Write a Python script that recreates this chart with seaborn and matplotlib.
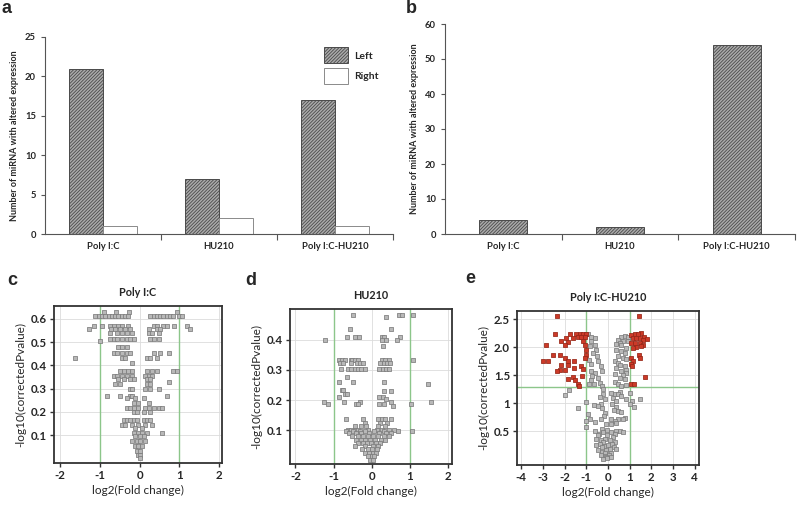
import numpy as np
import pandas as pd
import matplotlib
matplotlib.use('Agg')
import matplotlib.pyplot as plt
import seaborn as sns

# bar panels (a, b)
treatments = ['Poly I:C', 'HU210', 'Poly I:C-HU210']
left_counts = [21, 7, 17]
right_counts = [1, 2, 1]
total_counts = [4, 2, 54]

# volcano panels: -log10(corrected p) level -> log2 fold changes read at that level
c_rows = {
    0.630: [-0.90, -0.59, -0.26, 0.94],
    0.610: [-1.11, -1.03, -0.95, -0.86, -0.78, -0.69, -0.61, -0.53, -0.44, -0.36, -0.28,
            0.27, 0.35, 0.44, 0.52, 0.60, 0.69, 0.77, 0.85, 0.98, 1.06],
    0.570: [-1.14, -0.95, -0.74, -0.65, -0.53, -0.44, -0.28, 0.35, 0.44, 0.60, 0.69, 0.87, 1.19],
    0.555: [-1.26, -0.71, -0.61, -0.49, -0.36, -0.23, 0.23, 0.44, 0.52, 1.26],
    0.540: [-0.74, -0.57, -0.44, -0.32, -0.19, 0.23, 0.31, 0.48],
    0.515: [-0.74, -0.65, -0.57, -0.44, -0.32, -0.23, -0.15, 0.27, 0.35, 0.48],
    0.505: [-0.99],
    0.480: [-0.53, -0.44, -0.32],
    0.455: [-0.65, -0.57, -0.44, -0.32, -0.23, 0.35, 0.52, 0.75],
    0.430: [-1.62, -0.44, -0.36, 0.18, 0.27, 0.44],
    0.410: [-0.19],
    0.375: [-0.49, -0.40, -0.28, -0.19, 0.18, 0.31, 0.44, 0.85, 0.94],
    0.355: [-0.65, -0.57, -0.44, -0.32, -0.19, 0.14, 0.23, 0.31],
    0.340: [-0.53, -0.40, -0.23, -0.15, 0.18, 0.27],
    0.330: [0.73],
    0.320: [-0.61, -0.49, 0.18, 0.27],
    0.300: [-0.23, -0.19, 0.14, 0.27, 0.48],
    0.270: [-0.82, -0.49, -0.23, -0.19, 0.69],
    0.260: [-0.32, -0.11, 0.10],
    0.240: [-0.15, -0.03, 0.23],
    0.215: [-0.32, -0.23, -0.15, -0.03, 0.14, 0.23, 0.35, 0.48, 0.56],
    0.200: [-0.15, -0.07, 0.10, 0.27],
    0.165: [-0.40, -0.32, -0.23, -0.15, -0.07, 0.10, 0.18, 0.27],
    0.145: [-0.44, -0.36, -0.19, -0.03, 0.14, 0.31],
    0.130: [-0.11, 0.06],
    0.110: [-0.15, -0.05, 0.06, 0.18, 0.56],
    0.095: [-0.11, 0.00, 0.10],
    0.075: [-0.19, -0.07, 0.02, 0.14],
    0.055: [-0.11, -0.03, 0.06],
    0.030: [-0.07, 0.02],
    0.015: [-0.03, 0.02],
    0.002: [0.00],
}

d_rows = {
    0.480: [-0.48, 0.72, 0.80, 1.07],
    0.474: [0.38],
    0.435: [-0.57, 0.51],
    0.409: [-0.64, -0.45, -0.33, 0.26, 0.33, 0.74],
    0.400: [-1.22, 0.28, 0.37, 0.66],
    0.378: [0.29],
    0.331: [-0.87, -0.79, -0.70, -0.55, -0.51, -0.44, -0.35, 0.26, 0.35, 0.44, 1.07],
    0.323: [-0.83, -0.74, -0.54, -0.39, -0.31, -0.24, 0.22, 0.31, 0.39, 0.48],
    0.303: [-0.80, -0.63, -0.54, -0.45, -0.37, -0.28, -0.19, 0.20, 0.29, 0.38, 0.46],
    0.277: [-0.64],
    0.259: [-0.85, -0.48, 0.31],
    0.253: [1.47],
    0.235: [-0.79, -0.74],
    0.229: [0.32, 0.51],
    0.220: [-0.70, -0.66],
    0.209: [-0.85, 0.19, 0.29],
    0.205: [0.38],
    0.194: [-1.24, -0.72, -0.31, 0.51, 1.54],
    0.187: [-1.14, -0.41, -0.37, 0.20, 0.33, 1.03],
    0.180: [0.55],
    0.139: [-0.67, -0.24, 0.17, 0.26, 0.35, 0.51],
    0.124: [-0.19, 0.22, 0.39],
    0.113: [-0.45, -0.28, -0.15, 0.17, 0.35],
    0.102: [-0.61, -0.54, -0.44, -0.35, -0.10, 0.13, 0.26, 0.44, 0.57],
    0.097: [-0.67, -0.50, -0.32, -0.19, 0.07, 0.31, 0.68, 1.05],
    0.091: [-0.59, -0.41, -0.28, -0.06, 0.20, 0.38, 0.51],
    0.080: [-0.52, -0.37, -0.24, -0.10, 0.04, 0.17, 0.31, 0.44],
    0.069: [-0.41, -0.28, -0.17, -0.04, 0.09, 0.24, 0.35],
    0.058: [-0.35, -0.24, -0.13, -0.02, 0.10, 0.22],
    0.050: [-0.45, -0.17, 0.04, 0.17],
    0.038: [-0.26, -0.10, 0.00, 0.13],
    0.025: [-0.17, -0.07, 0.04, 0.11],
    0.014: [-0.09, 0.00, 0.07],
    0.003: [-0.04, 0.03],
}

e_rows = {
    2.56: [-2.34, 1.42],
    2.25: [1.51],
    2.24: [-2.46, -1.77, -1.46, -1.31, -1.15, -1.03, -0.92, 1.23, 1.38],
    2.22: [1.08],
    2.21: [0.77],
    2.19: [-0.77, 0.62, 0.92, 1.66],
    2.18: [-1.38, -1.23, -1.08],
    2.16: [-1.92, -1.62, -0.62, 1.15, 1.31, 1.46],
    2.15: [1.82],
    2.14: [0.46, 1.62],
    2.12: [-2.15, 0.69],
    2.11: [-1.15, -0.80, 0.92],
    2.09: [-1.85],
    2.08: [0.54, 1.08, 1.26, 1.46],
    2.06: [0.38],
    2.05: [-2.85, -2.00, -1.08, -0.62, 1.62],
    2.04: [0.62],
    2.02: [-0.85, 1.51],
    2.00: [1.31],
    1.99: [0.85, 1.15],
    1.96: [-1.03, -0.54, 0.38],
    1.93: [0.62],
    1.90: [-0.69, 0.77],
    1.87: [-2.23, -1.02, 1.42],
    1.86: [-2.54],
    1.84: [-0.49, 0.46],
    1.81: [-2.00, -1.08, 0.69, 1.08, 1.46],
    1.79: [0.85],
    1.78: [-0.89],
    1.76: [-2.77, -1.85, -1.57],
    1.75: [-3.00, -0.46, 0.31, 1.15],
    1.72: [0.46],
    1.71: [-0.77, 1.08],
    1.69: [0.54],
    1.68: [-2.15, -1.85],
    1.66: [-1.23, -0.34, 0.77, 1.11],
    1.64: [-1.57, 0.38],
    1.61: [-1.15],
    1.60: [0.85],
    1.59: [-2.20, -2.00],
    1.58: [-2.35, -0.77, -0.28, 0.62],
    1.55: [-0.62, 0.85],
    1.52: [0.31],
    1.50: [0.69],
    1.49: [-1.18, -0.72],
    1.47: [-1.62, 1.69],
    1.46: [-0.46, 0.54],
    1.43: [-1.85, 0.77],
    1.41: [-1.54, -0.80],
    1.39: [0.31],
    1.37: [-0.38],
    1.35: [-0.65, 1.08],
    1.34: [-1.38, -0.89, 0.46, 1.18],
    1.32: [0.82],
    1.31: [-1.34, -0.28, 0.62],
    1.25: [-0.23],
    1.24: [-1.82],
    1.20: [0.54],
    1.18: [0.15, 1.00],
    1.16: [-0.23, 0.31, 0.46],
    1.15: [-2.00],
    1.14: [0.62],
    1.12: [-0.38],
    1.09: [0.23],
    1.08: [-0.12, 0.85, 1.46],
    1.05: [0.38, 1.11],
    1.02: [-1.00],
    0.99: [-0.34, 0.18, 1.00],
    0.97: [-0.65],
    0.95: [-0.46],
    0.93: [0.38, 1.20],
    0.92: [-0.28],
    0.91: [-1.38],
    0.88: [0.26],
    0.87: [0.46],
    0.85: [0.62],
    0.82: [-0.12],
    0.81: [-0.92],
    0.78: [-0.18],
    0.74: [0.80],
    0.72: [-0.85, -0.34, 0.15, 0.46, 0.69],
    0.69: [-1.03, 0.31],
    0.66: [-0.62],
    0.65: [0.38],
    0.64: [-0.08, 0.15],
    0.58: [-1.00],
    0.55: [-0.28],
    0.53: [-0.03],
    0.51: [0.54],
    0.50: [-0.62, 0.38],
    0.49: [-0.23, 0.15, 0.69],
    0.45: [-0.40, 0.31],
    0.43: [-0.46, -0.03],
    0.40: [0.23],
    0.37: [-0.54, -0.15],
    0.34: [-0.34, 0.08],
    0.31: [-0.23, 0.31],
    0.28: [-0.38, 0.18],
    0.25: [-0.57, 0.00],
    0.24: [-0.18],
    0.22: [-0.30, 0.26],
    0.19: [0.38],
    0.18: [0.08],
    0.16: [-0.46, -0.08],
    0.14: [-0.28],
    0.11: [-0.15, 0.15],
    0.08: [-0.34, 0.03],
    0.06: [-0.15],
    0.05: [0.15],
    0.04: [-0.10],
    0.02: [-0.03],
    0.00: [-0.23],
}

fc_cutoff = 1.0
p_cutoff = 1.301  # -log10(0.05)


def rows_to_df(rows):
    fc, lp = [], []
    for level, xs in rows.items():
        fc += xs
        lp += [level] * len(xs)
    return pd.DataFrame({'log2fc': fc, 'logp': lp})


sns.set_theme(style='ticks')
plt.rcParams['font.family'] = ['Lato', 'DejaVu Sans']
plt.rcParams['hatch.linewidth'] = 0.6

fig = plt.figure(figsize=(7.99, 5.05), dpi=100)
W, H = 799, 505


def box(l, t, r, b):
    return [l / W, 1 - b / H, (r - l) / W, (b - t) / H]


ax_a = fig.add_axes(box(45, 37, 393, 234))
ax_b = fig.add_axes(box(445, 24, 795, 234))
ax_c = fig.add_axes(box(54, 306, 222, 463))
ax_d = fig.add_axes(box(290, 309, 452, 464))
ax_e = fig.add_axes(box(517, 311, 699, 465))

hatch_face = '#ababab'
hatch_edge = '#4a4a4a'
hatch = '/' * 10

# panel a
bar_df = pd.DataFrame({'treatment': treatments * 2,
                       'side': ['Left'] * 3 + ['Right'] * 3,
                       'count': left_counts + right_counts})
sns.barplot(data=bar_df, x='treatment', y='count', hue='side',
            palette={'Left': hatch_face, 'Right': 'white'}, width=0.58,
            saturation=1, errorbar=None, legend=False, linewidth=0.7, ax=ax_a)
for bar in ax_a.containers[0]:
    bar.set_hatch(hatch)
    bar.set_edgecolor(hatch_edge)
for bar in ax_a.containers[1]:
    bar.set_edgecolor('#8a8a8a')
ax_a.set_ylim(0, 25)
ax_a.set_yticks(range(0, 26, 5))
ax_a.legend(handles=[ax_a.containers[0][0], ax_a.containers[1][0]], labels=['Left', 'Right'],
            loc='upper right', bbox_to_anchor=(0.985, 0.995), frameon=False,
            handlelength=2.3, handleheight=2.0, labelspacing=0.45, handletextpad=0.6,
            prop={'size': 7.5, 'weight': 'bold'})

# panel b
sns.barplot(x=treatments, y=total_counts, color=hatch_face, width=0.41, saturation=1,
            errorbar=None, linewidth=0.7, ax=ax_b)
for bar in ax_b.patches:
    bar.set_hatch(hatch)
    bar.set_edgecolor(hatch_edge)
ax_b.set_ylim(0, 60)
ax_b.set_yticks(range(0, 61, 10))

for ax in (ax_a, ax_b):
    sns.despine(ax=ax)
    ax.set_xlim(-0.5, 2.5)
    ax.set_xlabel('')
    ax.set_ylabel('Number of miRNA with altered expression', fontsize=6.5, fontweight='bold')
    ax.set_xticks([0.5, 1.5, 2.5], minor=True)
    ax.tick_params(axis='x', which='major', length=0, pad=6)
    ax.tick_params(axis='x', which='minor', length=4, width=0.8, color='#555555')
    ax.tick_params(axis='y', length=3, width=0.8, color='#555555')
    for lab in ax.get_xticklabels() + ax.get_yticklabels():
        lab.set_fontsize(6.8)
        lab.set_fontweight('bold')
    for s in ('left', 'bottom'):
        ax.spines[s].set_color('#555555')
        ax.spines[s].set_linewidth(0.8)

# volcano panels
volcano = [
    (ax_c, rows_to_df(c_rows), 'Poly I:C', (-2.15, 2.07), (-0.02, 0.655),
     [-2, -1, 0, 1, 2], [0.1, 0.2, 0.3, 0.4, 0.5, 0.6], ['0.1', '0.2', '0.3', '0.4', '0.5', '0.6']),
    (ax_d, rows_to_df(d_rows), 'HU210', (-2.14, 2.1), (-0.011, 0.501),
     [-2, -1, 0, 1, 2], [0.1, 0.2, 0.3, 0.4], ['0.1', '0.2', '0.3', '0.4']),
    (ax_e, rows_to_df(e_rows), 'Poly I:C-HU210', (-4.2, 4.2), (-0.1, 2.65),
     [-4, -3, -2, -1, 0, 1, 2, 3, 4], [0.5, 1, 1.5, 2, 2.5], ['0.5', '1', '1.5', '2.0', '2.5']),
]

green = '#8cc68a'
for ax, df, title, xlim, ylim, xt, yt, ytl in volcano:
    ax.grid(True, color='#dcdcdc', linewidth=0.6)
    ax.set_axisbelow(True)
    ax.axvline(-fc_cutoff, color=green, linewidth=1.0, zorder=1.5)
    ax.axvline(fc_cutoff, color=green, linewidth=1.0, zorder=1.5)
    if ax is ax_e:
        ax.axhline(p_cutoff, color=green, linewidth=1.0, zorder=1.5)
        sig = (df['log2fc'].abs() > fc_cutoff) & (df['logp'] > p_cutoff)
    else:
        sig = pd.Series(False, index=df.index)
    sns.scatterplot(data=df[~sig], x='log2fc', y='logp', marker='s', s=9,
                    color='#b8b8b8', edgecolor='#7c7c7c', linewidth=0.55, ax=ax, zorder=3)
    if sig.any():
        sns.scatterplot(data=df[sig], x='log2fc', y='logp', marker='s', s=9,
                        color='#cc3a28', edgecolor='#962616', linewidth=0.55, ax=ax, zorder=3)
    ax.set_xlim(*xlim)
    ax.set_ylim(*ylim)
    ax.set_xticks(xt)
    ax.set_xticklabels([str(v) for v in xt])
    ax.set_yticks(yt)
    ax.set_yticklabels(ytl)
    ax.tick_params(length=3, width=1.0, color='#333333', labelsize=8.3, pad=2)
    for lab in ax.get_xticklabels() + ax.get_yticklabels():
        lab.set_fontweight('bold')
    for s in ax.spines.values():
        s.set_color('#333333')
        s.set_linewidth(1.3)
    ax.set_title(title, fontsize=7.8, fontweight='bold', pad=7)
    ax.set_xlabel('log2(Fold change)', fontsize=8.5, labelpad=3)
    ax.set_ylabel('-log10(correctedPvalue)', fontsize=8.5, labelpad=3)

# panel letters
for letter, x, y in [('a', 2, 13), ('b', 406, 13), ('c', 7, 285), ('d', 245, 285), ('e', 465, 283)]:
    fig.text(x / W, 1 - y / H, letter, fontsize=13, fontweight='bold',
             family='Liberation Sans', va='baseline', ha='left')

fig.savefig('out.png', dpi=100)
